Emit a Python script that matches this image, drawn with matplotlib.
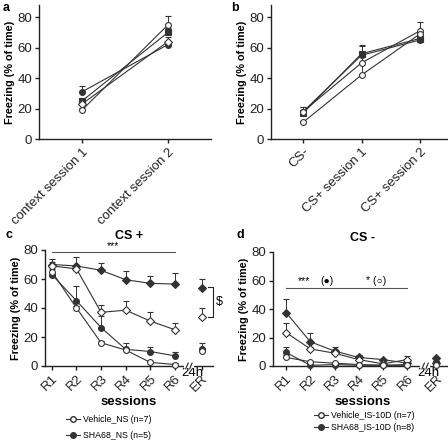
import matplotlib
matplotlib.use("Agg")
import matplotlib.pyplot as plt
import numpy as np

plt.rcParams['font.family'] = ['Liberation Sans', 'DejaVu Sans']

W, H = 448, 441

# ---------------- data ----------------
a_labels = ["context session 1", "context session 2"]
a_s1 = [31, 62]; a_s1_err = [3.5, 2]
a_s2 = [25, 70]; a_s2_err = [2, 3]
a_s3 = [23, 64]; a_s3_err = [2, 3]
a_s4 = [19, 75]; a_s4_err = [1.5, 5.5]

b_labels = ["CS-", "CS+ session 1", "CS+ session 2"]
b_s1 = [18, 55, 65]; b_s1_err = [3, 6, 2]
b_s2 = [17, 56, 66]; b_s2_err = [2, 6, 2]
b_s3 = [18, 50, 71]; b_s3_err = [3, 5, 6]
b_s4 = [11, 42, 69]; b_s4_err = [1, 8, 2]

sess_labels = ["R1", "R2", "R3", "R4", "R5", "R6"]
er_label = "ER"

c_s1 = [70, 69, 66, 59.5, 57, 56.5]; c_s1_err = [4, 6, 5, 6, 5, 7.5]; c_s1_er = 54; c_s1_er_err = 6
c_s2 = [69, 67, 37, 38.5, 31, 25]; c_s2_err = [3, 3, 5, 6, 6, 5]; c_s2_er = 34; c_s2_er_err = 6
c_s3 = [63, 45, 26.5, 11.5, 10, 7]; c_s3_err = [2, 10.5, 8, 4.5, 3, 3]; c_s3_er = 12; c_s3_er_err = 4
c_s4 = [65, 40, 16, 11, 2.5, 1]; c_s4_err = [2, 1.5, 1.5, 1, 1, 1]; c_s4_er = 10.5; c_s4_er_err = 1

d_s1 = [37.5, 17, 10.5, 6, 4.5, 2]; d_s1_err = [9.5, 6, 2.5, 2, 0.5, 0.5]; d_s1_er = 5.5; d_s1_er_err = 1
d_s2 = [23.5, 12, 9, 4.5, 1.5, 4.5]; d_s2_err = [7, 1, 2, 1, 0.5, 2.5]; d_s2_er = 2; d_s2_er_err = 0.5
d_s3 = [9.5, 0.5, 1, 0.5, 0.5, 0.5]; d_s3_err = [3.5, 0.5, 0.5, 0.5, 0.5, 0.5]; d_s3_er = 3; d_s3_er_err = 0.5
d_s4 = [6, 3, 2, 1, 0.5, 1]; d_s4_err = [2, 0.5, 0.5, 0.5, 0.5, 0.5]; d_s4_er = 1; d_s4_er_err = 0.5

legend_c = ["Vehicle_NS (n=7)", "SHA68_NS (n=5)"]
legend_d = ["Vehicle_IS-10D (n=7)", "SHA68_IS-10D (n=8)"]

# ---------------- helpers ----------------
fig = plt.figure(figsize=(W / 100, H / 100), dpi=100)


def add_ax(left, right, top, bottom):
    return fig.add_axes([left / W, 1 - bottom / H, (right - left) / W, (bottom - top) / H])


LC = '#333333'
TICK_FS = 9.5


def series(ax, x, y, err, marker, filled, ms=4.2, line=True):
    ax.errorbar(x, y, yerr=[np.zeros(len(err)), err], fmt=marker + ('-' if line else ''),
                color=LC, lw=0.8, ms=ms, mfc=(LC if filled else 'white'), mec=LC, mew=0.8,
                ecolor=LC, elinewidth=0.7, capsize=2, capthick=0.7, zorder=3, clip_on=False)


def style(ax, ylim):
    for s in ['top', 'right']:
        ax.spines[s].set_visible(False)
    for s in ['left', 'bottom']:
        ax.spines[s].set_linewidth(1.0)
        ax.spines[s].set_color('#222222')
    ax.set_ylim(*ylim)
    ax.set_yticks([0, 20, 40, 60, 80])
    ax.tick_params(axis='both', labelsize=TICK_FS, width=1.0, length=3, colors='#222222', pad=2)
    ax.set_ylabel("Freezing (% of time)", fontsize=7.8, fontweight='bold', labelpad=2)


# ---------------- panel a ----------------
axa = add_ax(39, 211, 5, 139)
xa = np.arange(1, len(a_labels) + 1)
series(axa, xa, a_s1, a_s1_err, 'o', True)
series(axa, xa, a_s2, a_s2_err, 's', True, ms=3.8)
series(axa, xa, a_s3, a_s3_err, 'D', False, ms=3.6)
series(axa, xa, a_s4, a_s4_err, 'o', False)
axa.set_xlim(0.5, 2.5)
style(axa, (0, 88))
axa.set_xticks(xa)
axa.set_xticklabels(a_labels, rotation=45, ha='right', rotation_mode='anchor')
fig.text(3 / W, 1 - 8 / H, "a", fontsize=9, fontweight='bold', va='center')

# ---------------- panel b ----------------
axb = add_ax(271, 452, 5, 139)
xb = np.arange(1, len(b_labels) + 1)
series(axb, xb, b_s1, b_s1_err, 'o', True)
series(axb, xb, b_s2, b_s2_err, 's', True, ms=3.8)
series(axb, xb, b_s3, b_s3_err, 'o', False)
series(axb, xb, b_s4, b_s4_err, 'o', False)
axb.set_xlim(0.45, 3.55)
style(axb, (0, 88))
axb.set_xticks(xb)
axb.set_xticklabels(b_labels, rotation=45, ha='right', rotation_mode='anchor')
fig.text(231 / W, 1 - 8 / H, "b", fontsize=9, fontweight='bold', va='center')


# ---------------- panels c & d ----------------
def session_panel(ax, data, xer, brk, xlim, title):
    xs = np.arange(1, len(sess_labels) + 1)
    for (y, e, yer, eer, mk, filled, ms) in data:
        series(ax, xs, y, e, mk, filled, ms=ms)
        series(ax, [xer], [yer], [eer], mk, filled, ms=ms, line=False)
    ax.set_xlim(*xlim)
    style(ax, (0, 80))
    ax.set_xticks(list(xs) + [xer])
    ax.set_xticklabels(sess_labels + [er_label], rotation=45, ha='right', rotation_mode='anchor')
    ax.set_xlabel("sessions", fontsize=9.5, fontweight='bold', labelpad=1)
    ax.set_title(title, fontsize=9, fontweight='bold', pad=8)
    # axis break
    tr = ax.get_xaxis_transform()
    ax.plot([brk - 0.12, brk + 0.12], [0, 0], color='white', lw=3, transform=tr, clip_on=False, zorder=4)
    for dx in (-0.08, 0.08):
        ax.plot([brk + dx - 0.05, brk + dx + 0.05], [-0.025, 0.025], color='#222222', lw=0.8,
                transform=tr, clip_on=False, zorder=5)
    ax.text(brk + 0.15, -0.01, "24h", transform=tr, fontsize=9.5, ha='center', va='top')
    h1, = ax.plot([], [], 'o-', color=LC, mfc='white', mec=LC, ms=4, lw=0.8)
    h2, = ax.plot([], [], 'o-', color=LC, mfc=LC, mec=LC, ms=4, lw=0.8)
    return [h1, h2]


axc = add_ax(45, 213, 250, 366)
hc = session_panel(axc,
                   [(c_s1, c_s1_err, c_s1_er, c_s1_er_err, 'D', True, 3.8),
                    (c_s2, c_s2_err, c_s2_er, c_s2_er_err, 'D', False, 3.8),
                    (c_s3, c_s3_err, c_s3_er, c_s3_er_err, 'o', True, 4.2),
                    (c_s4, c_s4_err, c_s4_er, c_s4_er_err, 'o', False, 4.2)],
                   7.1, 6.57, (0.72, 7.55), "CS +")
axc.plot([1, 6], [78.6, 78.6], color='#555555', lw=0.8, clip_on=False)
axc.text(3.5, 79.2, "***", ha='center', va='bottom', fontsize=7.5)
# $ bracket
axc.plot([7.35, 7.55, 7.55, 7.35], [54.5, 54.5, 34, 34], color='#222222', lw=0.8, clip_on=False)
axc.text(7.8, 44, "$", ha='center', va='center', fontsize=9)
fig.text(5 / W, 1 - 235 / H, "c", fontsize=9, fontweight='bold', va='center')
fig.legend(hc, legend_c, loc='upper left', bbox_to_anchor=(62 / W, 1 - 412 / H), frameon=False,
           fontsize=6.3, handlelength=1.6, handletextpad=0.4, labelspacing=0.8, borderaxespad=0)

axd = add_ax(273, 452, 252, 366)
hd = session_panel(axd,
                   [(d_s1, d_s1_err, d_s1_er, d_s1_er_err, 'D', True, 3.8),
                    (d_s2, d_s2_err, d_s2_er, d_s2_er_err, 'D', False, 3.8),
                    (d_s3, d_s3_err, d_s3_er, d_s3_er_err, 'o', True, 4.2),
                    (d_s4, d_s4_err, d_s4_er, d_s4_er_err, 'o', False, 4.2)],
                   7.2, 6.74, (0.46, 7.85), "CS -")
axd.plot([1, 6], [55, 55], color='#555555', lw=0.8, clip_on=False)
axd.text(1.75, 56, "***", ha='center', va='bottom', fontsize=7.5)
axd.text(2.7, 56, "(\u25cf)", ha='center', va='bottom', fontsize=7.5)
axd.text(4.7, 56, "* (\u25cb)", ha='center', va='bottom', fontsize=7.5)
fig.text(236 / W, 1 - 235 / H, "d", fontsize=9, fontweight='bold', va='center')
fig.legend(hd, legend_d, loc='upper left', bbox_to_anchor=(310 / W, 1 - 408 / H), frameon=False,
           fontsize=6.3, handlelength=1.6, handletextpad=0.4, labelspacing=0.25, borderaxespad=0)

fig.savefig("out.png", dpi=100)
